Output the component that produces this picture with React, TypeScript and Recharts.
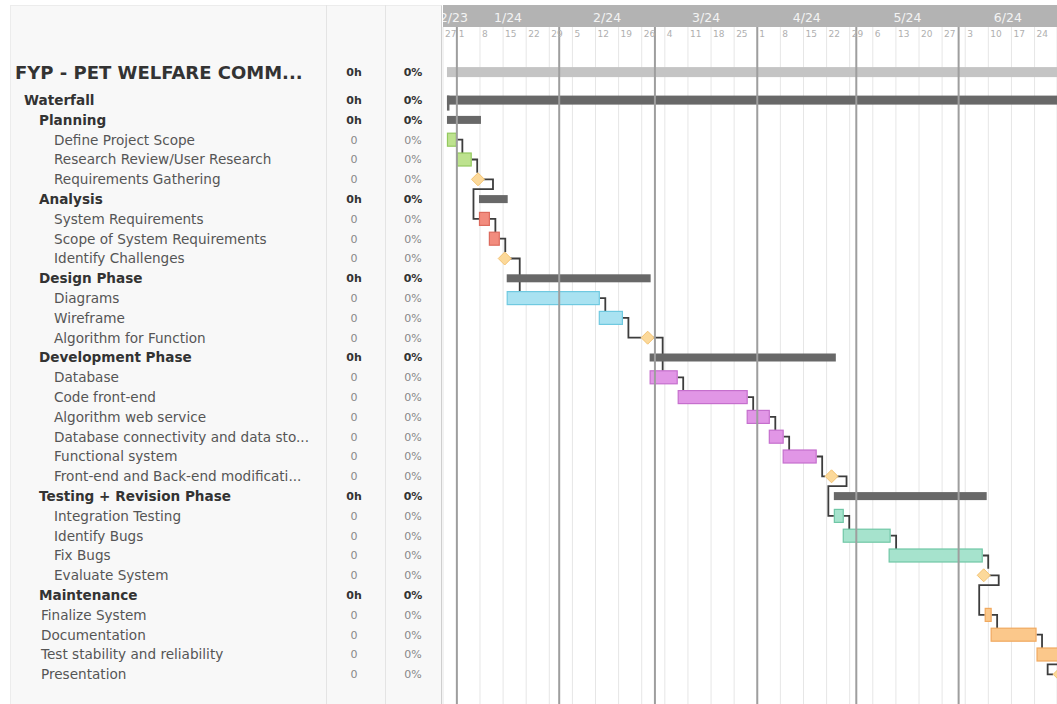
import React from "react";
import { ComposedChart, Bar, XAxis, YAxis, CartesianGrid, ReferenceLine } from "recharts";

const FONT = "'DejaVu Sans', Verdana, sans-serif";

// rows of the gantt, top to bottom
const taskNames = [
  "FYP - PET WELFARE COMM...",
  "Waterfall",
  "Planning",
  "Define Project Scope",
  "Research Review/User Research",
  "Requirements Gathering",
  "Analysis",
  "System Requirements",
  "Scope of System Requirements",
  "Identify Challenges",
  "Design Phase",
  "Diagrams",
  "Wireframe",
  "Algorithm for Function",
  "Development Phase",
  "Database",
  "Code front-end",
  "Algorithm web service",
  "Database connectivity and data sto...",
  "Functional system",
  "Front-end and Back-end modificati...",
  "Testing + Revision Phase",
  "Integration Testing",
  "Identify Bugs",
  "Fix Bugs",
  "Evaluate System",
  "Maintenance",
  "Finalize System",
  "Documentation",
  "Test stability and reliability",
  "Presentation",
];
const taskLevel = [0, 1, 2, 3, 3, 3, 2, 3, 3, 3, 2, 3, 3, 3, 2, 3, 3, 3, 3, 3, 3, 2, 3, 3, 3, 3, 2, 2, 2, 2, 2];
const taskKind = [
  "project", "root", "group", "task", "task", "milestone", "group", "task", "task", "milestone",
  "group", "task", "task", "milestone", "group", "task", "task", "task", "task", "task", "milestone",
  "group", "task", "task", "task", "milestone", "group", "task", "task", "task", "milestone",
];
const taskPhase = [
  "", "", "", "plan", "plan", "plan", "", "analysis", "analysis", "analysis",
  "", "design", "design", "design", "", "dev", "dev", "dev", "dev", "dev", "dev",
  "", "test", "test", "test", "test", "", "final", "final", "final", "final",
];
// days counted from 1 Jan 2024
const taskStart = [-3, -3, -3, -3, 0, 6.4, 6.7, 6.7, 9.7, 14.5, 15.1, 15.1, 43, 57.8, 58.4, 58.4, 66.9, 87.8, 94.5, 98.7, 113.5, 114.2, 114.2, 116.9, 130.8, 159.6, null, 159.9, 161.7, 175.6, 182.6];
const taskEnd = [200, 200, 7.3, 0, 4.5, 6.4, 15.4, 10, 13, 14.5, 58.7, 43.3, 50.3, 57.8, 114.8, 66.9, 88.1, 94.8, 99, 109, 113.5, 160.5, 117.2, 131.4, 159.3, 159.6, null, 162, 175.6, 190, 182.6];
const nextTask = [null, null, null, 4, 5, 7, null, 8, 9, 11, null, 12, 13, 15, null, 16, 17, 18, 19, 20, 22, null, 23, 24, 25, 27, null, 28, 29, 30, null];
const hoursCol = ["0h", "0h", "0h", "0", "0", "0", "0h", "0", "0", "0", "0h", "0", "0", "0", "0h", "0", "0", "0", "0", "0", "0", "0h", "0", "0", "0", "0", "0h", "0", "0", "0", "0"];
const pctCol = ["0%", "0%", "0%", "0%", "0%", "0%", "0%", "0%", "0%", "0%", "0%", "0%", "0%", "0%", "0%", "0%", "0%", "0%", "0%", "0%", "0%", "0%", "0%", "0%", "0%", "0%", "0%", "0%", "0%", "0%", "0%"];

const monthLabels = ["12/23", "1/24", "2/24", "3/24", "4/24", "5/24", "6/24"];
const monthStartDays = [-31, 0, 31, 60, 91, 121, 152, 182];
const weekLabels = ["27", "1", "8", "15", "22", "29", "5", "12", "19", "26", "4", "11", "18", "25", "1", "8", "15", "22", "29", "6", "13", "20", "27", "3", "10", "17", "24"];
const weekDays = [-4.2, 0, 7, 14, 21, 28, 35, 42, 49, 56, 63, 70, 77, 84, 91, 98, 105, 112, 119, 126, 133, 140, 147, 154, 161, 168, 175];

// layout
const W = 1057;
const H = 704;
const LEFT_W = 443;
const TOP = 27;
const ROW_STEP = 19.8;
const FIRST_ROW_Y = 100;
const X_MIN = -4.2;
const X_MAX = 181.8;
const Y_MIN = -(FIRST_ROW_Y - TOP) / ROW_STEP;
const Y_MAX = Y_MIN + (H - TOP) / ROW_STEP;
const DIA = 6.5;
const TASK_H = 13;

const phaseFill: Record<string, string> = {
  plan: "#bde28e", analysis: "#f28c7e", design: "#a9e2f1", dev: "#e196e6", test: "#a6e3cd", final: "#fbc88b",
};
const phaseStroke: Record<string, string> = {
  plan: "#93c95f", analysis: "#dc6b5e", design: "#6fc9e0", dev: "#c56fcd", test: "#70c7a6", final: "#f1a95f",
};
const indent: Record<number, number> = { 0: 15, 1: 24, 2: 39, 3: 54 };

const rows = taskNames.map((name, i) => {
  const s = taskStart[i];
  const e = taskEnd[i];
  const kind = taskKind[i];
  return {
    name,
    level: taskLevel[i],
    kind,
    phase: taskPhase[i],
    hours: hoursCol[i],
    pct: pctCol[i],
    row: i === 0 ? -28 / ROW_STEP : i - 1,
    next: nextTask[i],
    range: s == null || e == null ? null : kind === "milestone" ? [s - 0.5, s + 0.5] : [s, e],
  };
});

const monthTicks = monthLabels.map((_, i) => {
  const a = Math.max(monthStartDays[i], X_MIN);
  const b = Math.min(monthStartDays[i + 1], X_MAX);
  return (a + b) / 2;
});

function GanttBar(props: any) {
  const { x, y, width, height, payload } = props;
  if (!payload || !payload.range || !isFinite(x) || !isFinite(width)) return <g />;
  const cy = y + height / 2;
  const [s, e] = payload.range;
  const pxPerDay = width / (e - s);
  let link = null;
  if (payload.next != null) {
    const nx = rows[payload.next];
    const [ns, ne] = nx.range as number[];
    let nLeft = x + (ns - s) * pxPerDay;
    let nRight = x + (ne - s) * pxPerDay;
    if (nx.kind === "milestone") {
      const c = (nLeft + nRight) / 2;
      nLeft = c - DIA;
      nRight = c + DIA;
    }
    const ncy = cy + (nx.row - payload.row) * ROW_STEP;
    const nTop = ncy - (nx.kind === "milestone" ? DIA : TASK_H / 2);
    const xe = payload.kind === "milestone" ? x + width / 2 : x + width;
    const turn = payload.kind === "milestone" ? xe + 15 : xe + 5.5;
    let d;
    if (turn >= nLeft && turn <= nRight) d = `M${xe},${cy}H${turn}V${nTop}`;
    else if (turn < nLeft) d = `M${xe},${cy}H${turn}V${ncy}H${nLeft}`;
    else d = `M${xe},${cy}H${turn}V${cy + ROW_STEP / 2}H${nLeft - 5.5}V${ncy}H${nLeft}`;
    link = <path d={d} fill="none" stroke="#3d3d3d" strokeWidth={1.8} />;
  }
  let mark = null;
  if (payload.kind === "project") {
    mark = <rect x={x} y={cy - 5} width={width} height={10} fill="#c4c4c4" />;
  } else if (payload.kind === "root") {
    mark = (
      <g>
        <rect x={x} y={cy - 4.5} width={width} height={9} fill="#686868" />
        <rect x={x} y={cy - 4.5} width={2.5} height={15} fill="#686868" />
      </g>
    );
  } else if (payload.kind === "group") {
    mark = <rect x={x} y={cy - 4} width={width} height={8} fill="#686868" />;
  } else if (payload.kind === "milestone") {
    const c = x + width / 2;
    mark = (
      <polygon
        points={`${c},${cy - DIA} ${c + DIA},${cy} ${c},${cy + DIA} ${c - DIA},${cy}`}
        fill="#fcd99a"
        stroke="#f3c373"
        strokeWidth={1}
      />
    );
  } else {
    mark = (
      <rect
        x={x + 0.5}
        y={cy - TASK_H / 2}
        width={Math.max(width - 1, 1)}
        height={TASK_H}
        fill={phaseFill[payload.phase]}
        stroke={phaseStroke[payload.phase]}
        strokeWidth={1.2}
      />
    );
  }
  return (
    <g>
      {link}
      {mark}
    </g>
  );
}

function TableTick(props: any) {
  const { x, y, payload } = props;
  const r = rows.find((d) => Math.abs(d.row - payload.value) < 1e-6);
  if (!r) return <g />;
  const left = x - LEFT_W;
  const bold = r.kind !== "task" && r.kind !== "milestone";
  const isProject = r.kind === "project";
  const nameX = left + indent[r.level] + (!bold && r.level === 2 ? 2 : 0);
  const colFill = bold ? "#333" : "#888";
  return (
    <g fontFamily={FONT}>
      <text
        x={nameX}
        y={y}
        dy={isProject ? 6.5 : 5}
        fontSize={isProject ? 18 : 13.6}
        fontWeight={bold ? "bold" : "normal"}
        fill={bold ? "#333" : "#555"}
      >
        {r.name}
      </text>
      <text x={left + 354} y={y} dy={4} textAnchor="middle" fontSize={11} fontWeight={bold ? "bold" : "normal"} fill={colFill}>
        {r.hours}
      </text>
      <text x={left + 413} y={y} dy={4} textAnchor="middle" fontSize={11} fontWeight={bold ? "bold" : "normal"} fill={colFill}>
        {r.pct}
      </text>
    </g>
  );
}

function MonthTick(props: any) {
  const { x, payload } = props;
  return (
    <g>
      {payload.index === 0 && (
        <defs>
          <clipPath id="timeline-clip">
            <rect x={LEFT_W} y={0} width={W - LEFT_W} height={TOP} />
          </clipPath>
        </defs>
      )}
      <text
        x={x}
        y={TOP - 5}
        textAnchor="middle"
        fontSize={12.5}
        fontFamily={FONT}
        fill="#f4f4f4"
        clipPath="url(#timeline-clip)"
      >
        {monthLabels[payload.index]}
      </text>
    </g>
  );
}

function WeekTick(props: any) {
  const { x, payload } = props;
  return (
    <text x={x + 2} y={TOP + 9.5} fontSize={9} fontFamily={FONT} fill="#b0b0b0">
      {weekLabels[payload.index]}
    </text>
  );
}

export default function App() {
  return (
    <div style={{ position: "absolute", left: 0, top: 0, width: W, height: H, background: "#fff", overflow: "hidden" }}>
      <div
        style={{
          position: "absolute",
          left: 10,
          top: 5,
          width: LEFT_W - 11,
          height: H,
          background: "#f8f8f8",
          borderLeft: "1px solid #ececec",
          borderTop: "1px solid #ececec",
          borderRight: "1px solid #cfcfcf",
          boxSizing: "border-box",
        }}
      />
      <div style={{ position: "absolute", left: 326, top: 5, width: 1, height: H, background: "#e4e4e4" }} />
      <div style={{ position: "absolute", left: 385, top: 5, width: 1, height: H, background: "#e4e4e4" }} />
      <div style={{ position: "absolute", left: LEFT_W, top: 5, width: W - LEFT_W, height: TOP - 5, background: "#b3b3b3" }} />
      <div style={{ position: "absolute", left: 0, top: 0 }}>
        <ComposedChart width={W} height={H} data={rows} layout="vertical" margin={{ top: 4, right: 0, bottom: 0, left: 0 }}>
          <XAxis
            xAxisId="week"
            type="number"
            orientation="top"
            domain={[X_MIN, X_MAX]}
            allowDataOverflow
            ticks={weekDays}
            interval={0}
            height={1}
            axisLine={false}
            tickLine={false}
            tickSize={0}
            tickMargin={0}
            tick={WeekTick}
          />
          <XAxis
            xAxisId="month"
            type="number"
            orientation="top"
            domain={[X_MIN, X_MAX]}
            allowDataOverflow
            ticks={monthTicks}
            interval={0}
            height={22}
            axisLine={false}
            tickLine={false}
            tickSize={0}
            tickMargin={0}
            tick={MonthTick}
          />
          <YAxis
            type="number"
            dataKey="row"
            domain={[Y_MIN, Y_MAX]}
            allowDataOverflow
            ticks={rows.map((r) => r.row)}
            interval={0}
            width={LEFT_W}
            axisLine={false}
            tickLine={false}
            tickSize={0}
            tickMargin={0}
            tick={TableTick}
          />
          <CartesianGrid xAxisId="week" horizontal={false} stroke="#e6e6e6" strokeWidth={1} />
          {monthStartDays
            .filter((d) => d >= 0 && d < X_MAX)
            .map((d) => (
              <ReferenceLine key={d} xAxisId="week" x={d} stroke="#9e9e9e" strokeWidth={2} />
            ))}
          <Bar xAxisId="week" dataKey="range" barSize={16} shape={GanttBar} isAnimationActive={false} />
        </ComposedChart>
      </div>
    </div>
  );
}
